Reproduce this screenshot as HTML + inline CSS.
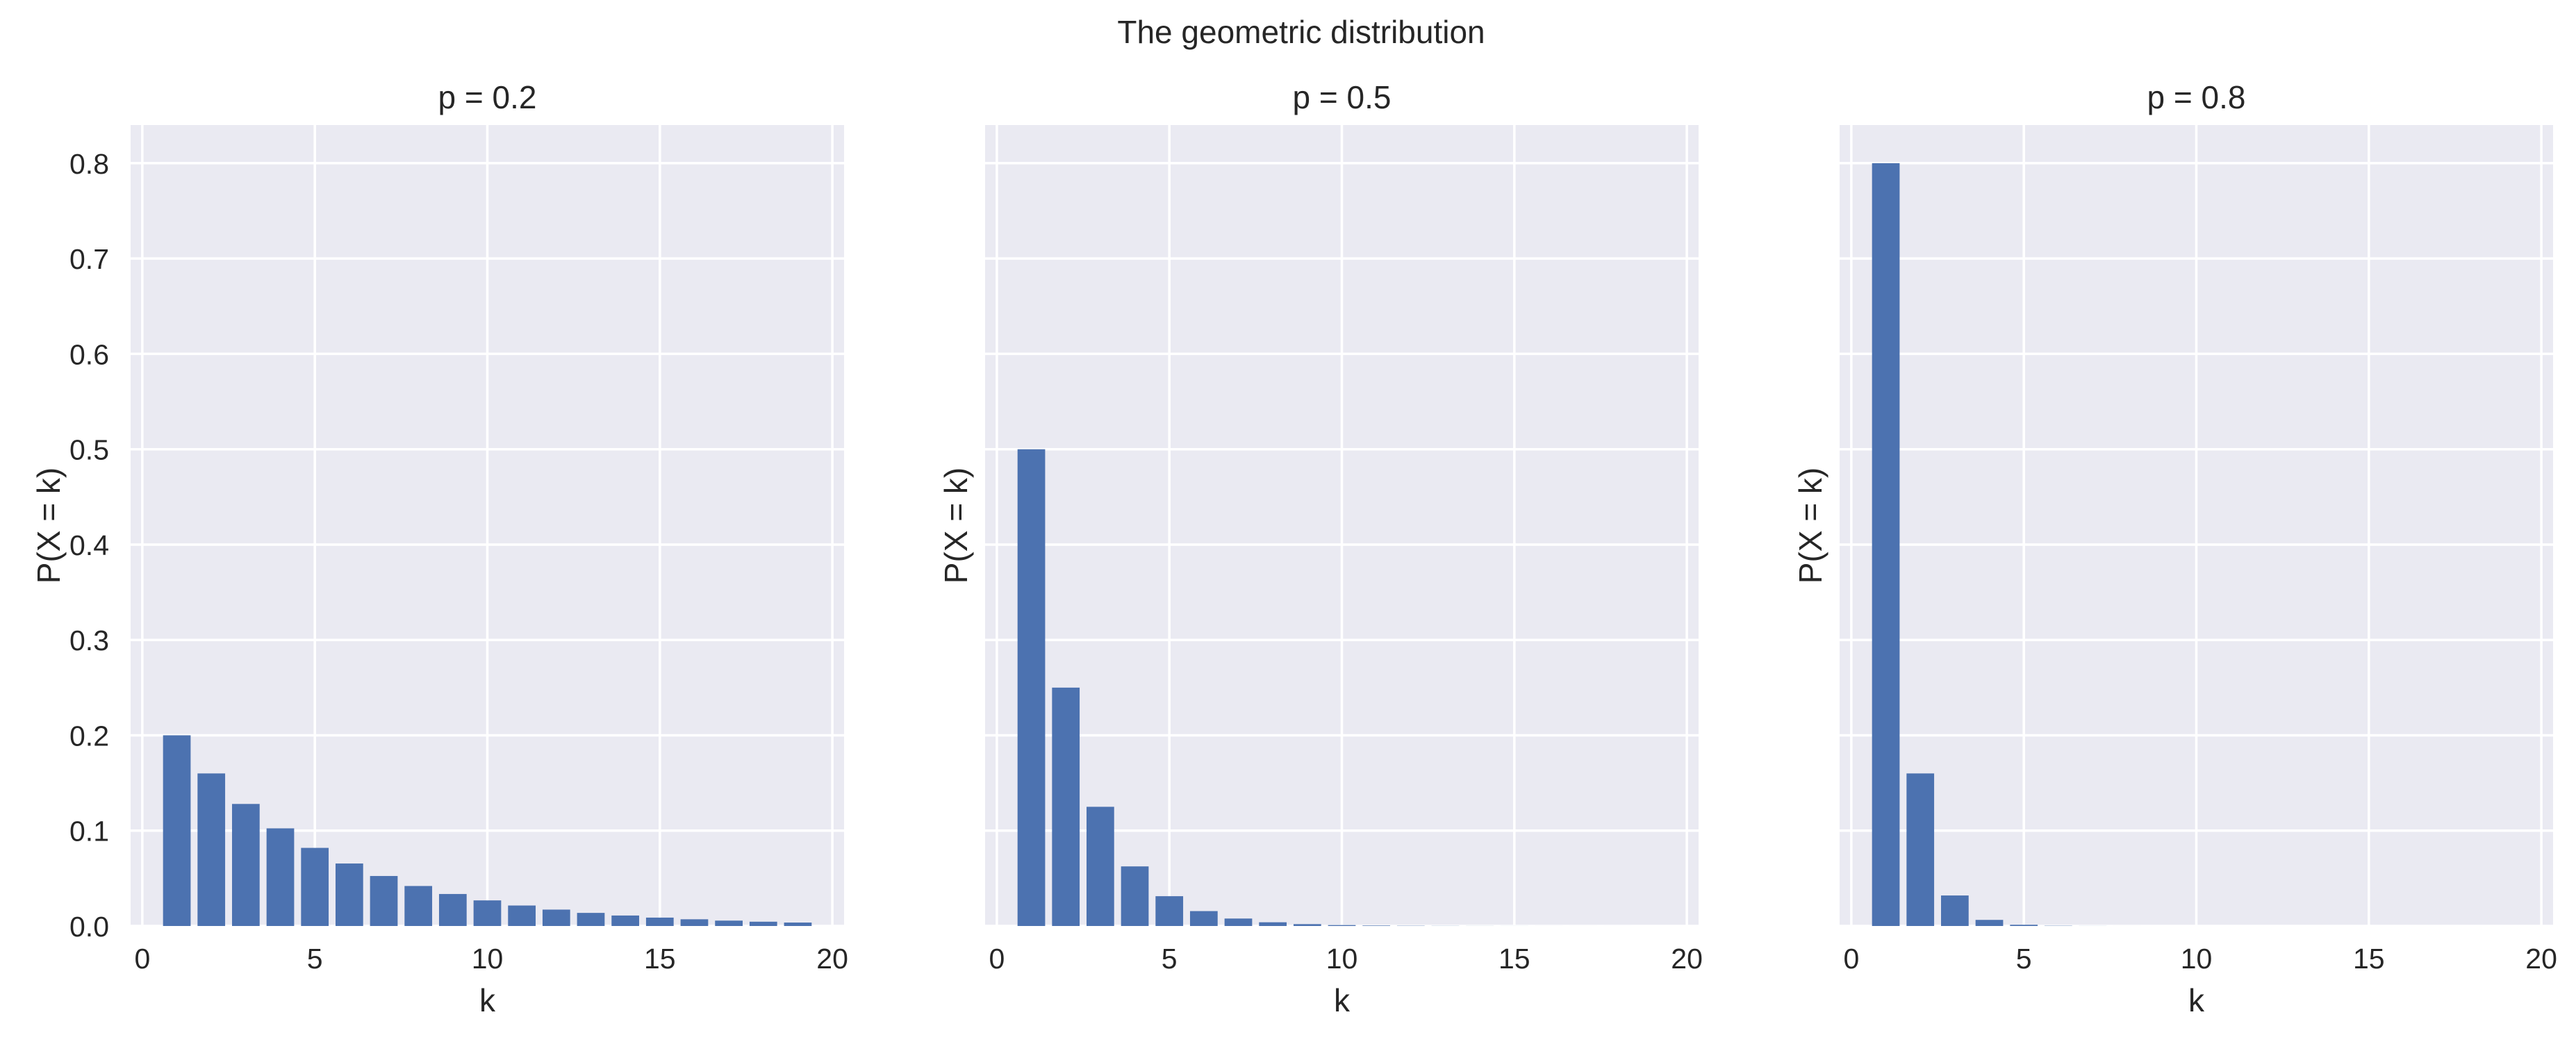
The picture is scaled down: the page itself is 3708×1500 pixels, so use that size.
<!DOCTYPE html>
<html><head><meta charset="utf-8"><style>
html,body{margin:0;padding:0;background:#fff;}
svg{display:block;font-family:"Liberation Sans","DejaVu Sans",sans-serif;}
</style></head><body>
<svg id="fig" width="3708" height="1500" viewBox="0 0 3708 1500" xmlns="http://www.w3.org/2000/svg">
<rect width="3708" height="1500" fill="#fff"/>
<text x="1873" y="62" font-size="46" text-anchor="middle" fill="#262626">The geometric distribution</text>
<g id="panels"></g>
</svg>
<script>
const kValues = [1,2,3,4,5,6,7,8,9,10,11,12,13,14,15,16,17,18,19];
const pLabels = ["p = 0.2","p = 0.5","p = 0.8"];
const probs02 = [0.2,0.16,0.128,0.1024,0.08192,0.065536,0.0524288,0.041943,0.033554,0.026844,0.021475,0.01718,0.013744,0.010995,0.008796,0.007037,0.00563,0.004504,0.003603];
const probs05 = [0.5,0.25,0.125,0.0625,0.03125,0.015625,0.0078125,0.0039063,0.0019531,0.00097656,0.00048828,0.00024414,0.00012207,0.000061,0.0000305,0.0000153,0.0000076,0.0000038,0.0000019];
const probs08 = [0.8,0.16,0.032,0.0064,0.00128,0.000256,0.0000512,0.0000102,0.000002,0.0000004,0.0000001,0,0,0,0,0,0,0,0];
const xTicks = [0,5,10,15,20];
const yTicks = [0,0.1,0.2,0.3,0.4,0.5,0.6,0.7,0.8];
const yTickLabels = ["0.0","0.1","0.2","0.3","0.4","0.5","0.6","0.7","0.8"];

const NS = "http://www.w3.org/2000/svg";
const series = [probs02, probs05, probs08];
const lefts = [188, 1418, 2648];
const W = 1027, plotTop = 180, plotBottom = 1333;
const xMin = -0.34, xMax = 20.34, yMin = 0, yMax = 0.84;
const root = document.getElementById('panels');
function mk(tag, attrs, parent){const e=document.createElementNS(NS,tag);for(const k in attrs)e.setAttribute(k,attrs[k]);parent.appendChild(e);return e;}

series.forEach((vals, pi) => {
  const L = lefts[pi];
  const xs = v => L + (v - xMin) / (xMax - xMin) * W;
  const ys = v => plotBottom - (v - yMin) / (yMax - yMin) * (plotBottom - plotTop);
  const g = mk('g', {}, root);
  
  
  const bg = mk('rect', {x:L, y:plotTop, width:W, height:plotBottom-plotTop, fill:'#eaeaf2'}, g);
  
  
  yTicks.forEach((t, i) => {
    const y = ys(t);
    const gl = mk('line', {x1:L, x2:L+W, y1:y, y2:y, stroke:'#fff', 'stroke-width':3.5}, g);
    
    
    if (pi === 0) {
      const tl = mk('text', {x:L-31, y:y+15, 'font-size':41, 'text-anchor':'end', fill:'#262626'}, g);
      tl.textContent = yTickLabels[i];
      
      
    }
  });
  xTicks.forEach(t => {
    const x = xs(t);
    const gl = mk('line', {x1:x, x2:x, y1:plotTop, y2:plotBottom, stroke:'#fff', 'stroke-width':3.5}, g);
    
    
    const tl = mk('text', {x:x, y:1394, 'font-size':41, 'text-anchor':'middle', fill:'#262626'}, g);
    tl.textContent = String(t);
    
    
  });
  vals.forEach((v, i) => {
    const k = kValues[i];
    const x0 = xs(k - 0.4), x1 = xs(k + 0.4);
    const y0 = ys(v);
    const b = mk('rect', {x:x0, y:y0, width:x1-x0, height:Math.max(0, plotBottom - y0), fill:'#4c72b0'}, g);
    
    
  });
  const title = mk('text', {x:L+W/2, y:156, 'font-size':46, 'text-anchor':'middle', fill:'#262626'}, g);
  title.textContent = pLabels[pi];
  
  
  const xl = mk('text', {x:L+W/2, y:1456, 'font-size':46, 'text-anchor':'middle', fill:'#262626'}, g);
  xl.textContent = 'k';
  
  
  const lx = pi === 0 ? 86 : L - 26;
  const cy = (plotTop+plotBottom)/2;
  const yl = mk('text', {x:lx, y:cy, 'font-size':46, 'text-anchor':'middle', fill:'#262626', transform:'rotate(-90 '+lx+' '+cy+')'}, g);
  yl.textContent = 'P(X = k)';
  
  
});
</script>
</body></html>
